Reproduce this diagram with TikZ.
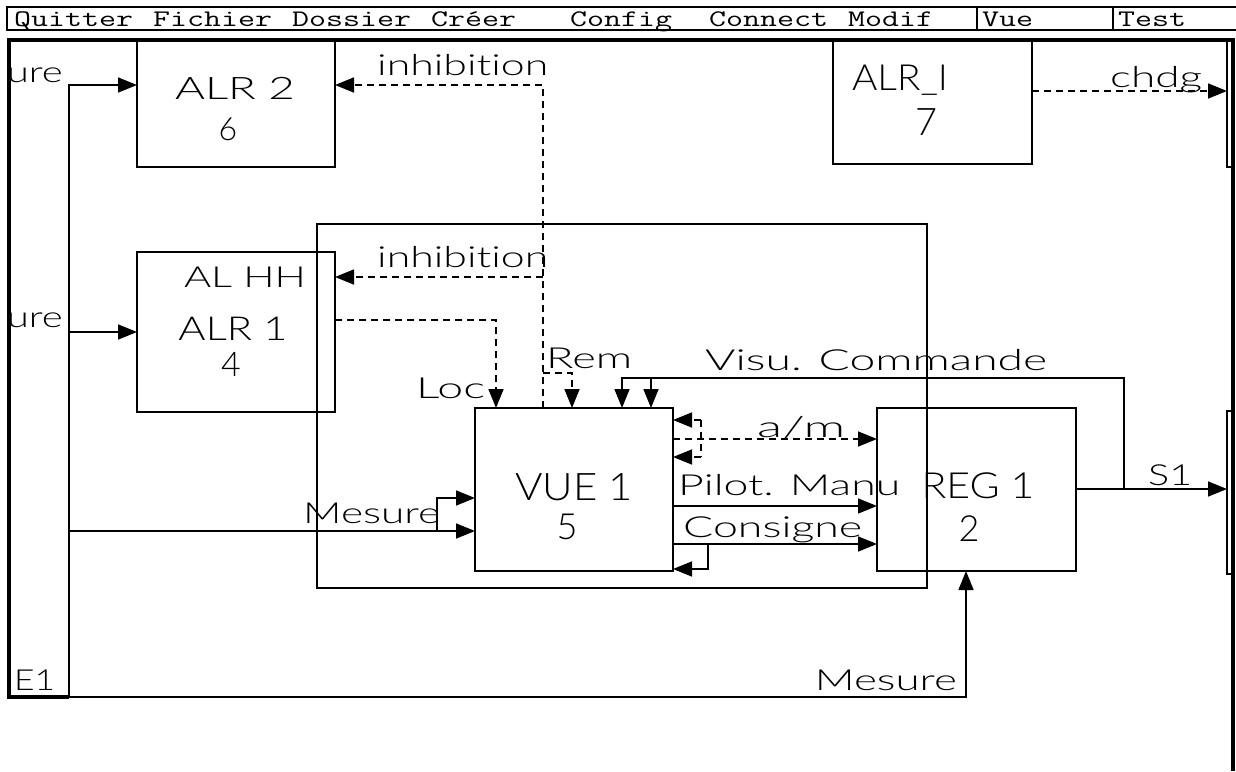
\documentclass[tikz,border=0pt]{standalone}
\usepackage{fontspec}
\usepackage{graphicx}
\setmainfont{Lato}[UprightFont=* Light, Ligatures=NoCommon]
\usetikzlibrary{arrows.meta}
\newcommand\fitw[2]{\resizebox{#1pt}{\height}{#2}}
\newcommand\mtxt[1]{\scalebox{1}[0.72]{#1}}
\begin{document}
\begin{tikzpicture}[x=1pt,y=-1pt,
  box/.style={draw, line width=1.6pt, inner sep=0pt, outer sep=0pt, anchor=north west},
  wire/.style={line width=1.6pt},
  sig/.style={wire, -{Triangle[length=19pt,width=15pt]}},
  dwire/.style={wire, dash pattern=on 7pt off 5pt},
  dsig/.style={dwire, -{Triangle[length=19pt,width=15pt]}},
  lbl/.style={inner sep=0pt, font=\fontsize{29}{30}\selectfont},
  big/.style={inner sep=0pt, font=\fontsize{#1}{#1}\selectfont},
  menu/.style={inner sep=0pt, anchor=base west, font=\ttfamily\fontsize{33}{33}\selectfont},
  frame/.style={line width=4pt},
  mline/.style={line width=1.4pt}
]
\useasboundingbox (0,0) rectangle (1236,771);
\fill[white] (0,0) rectangle (1236,771);

% menu bar
\draw[mline] (1240,7) -- (7,7) -- (7,30) -- (1240,30);
\coordinate (sepA) at (977,7);
\coordinate (sepB) at (1113,7);
\draw[mline] (sepA) -- (977,30);
\draw[mline] (sepB) -- (1113,30);
\node[menu] (mQuit) at (14,26) {\mtxt{Quitter}};
\node[menu] (mFich) at (153,26) {\mtxt{Fichier}};
\node[menu] (mDoss) at (292,26) {\mtxt{Dossier}};
\node[menu] (mCree) at (431,26) {\mtxt{Créer}};
\node[menu] (mConf) at (570,26) {\mtxt{Config}};
\node[menu] (mConn) at (709,26) {\mtxt{Connect}};
\node[menu] (mModi) at (848,26) {\mtxt{Modif}};
\node[menu] (mVue) at (982,26) {\mtxt{Vue}};
\node[menu] (mTest) at (1118,26) {\mtxt{Test}};

% boxes
\node[box, minimum width=198pt, minimum height=127pt] (alr2) at (137,40) {};
\node[box, minimum width=199pt, minimum height=124pt] (alri) at (833,40) {};
\node[box, minimum width=610pt, minimum height=364pt] (grp) at (317,224) {};
\node[box, minimum width=198pt, minimum height=160pt] (alr1) at (137,252) {};
\node[box, minimum width=198pt, minimum height=163pt] (vue) at (475,408) {};
\node[box, minimum width=199pt, minimum height=163pt] (reg) at (877,408) {};
\node[box, minimum width=6pt, minimum height=127pt] (outA) at (1227,40) {};
\node[box, minimum width=6pt, minimum height=163pt] (outB) at (1227,411) {};

% box texts
\node[big=31] (t2) at (235,88) {\fitw{120}{ALR 2}};
\node[big=32] (n2) at (228,129) {6};
\node[big=36] (ti) at (900,80) {\fitw{96}{ALR\_I}};
\node[big=38] (ni) at (927,122) {7};
\node[big=29] (thh) at (245,277) {\fitw{122}{AL HH}};
\node[big=33] (t1) at (233,329) {\fitw{109}{ALR 1}};
\node[big=34] (n1) at (231,364) {4};
\node[big=38] (tv) at (574,487) {\fitw{118}{VUE 1}};
\node[big=36] (nv) at (567,527) {5};
\node[big=36] (tr) at (978,486) {\fitw{113}{REG 1}};
\node[big=36] (nr) at (969,529) {2};

% coordinates for wiring
\coordinate (vtop) at (69,85);
\coordinate (vmid) at (69,332);
\coordinate (vlow) at (69,531);
\coordinate (vbot) at (69,697);
\coordinate (mbot) at (966,697);
\coordinate (br) at (437,531);
\coordinate (brup) at (437,498);
\coordinate (inhT) at (543,85);
\coordinate (inhB) at (543,408);
\coordinate (inh2) at (543,277);
\coordinate (locA) at (335,320);
\coordinate (locB) at (496,320);
\coordinate (remA) at (543,373);
\coordinate (remB) at (572,373);
\coordinate (visA) at (1124,489);
\coordinate (visB) at (1124,378);
\coordinate (visC) at (622,378);
\coordinate (visD) at (651,378);
\coordinate (amA) at (701,420);
\coordinate (amB) at (701,457);
\coordinate (csA) at (708,544);
\coordinate (csB) at (708,569);

% solid wires
\draw[sig] (vbot) -- (vtop) -- (alr2.west |- vtop);
\draw[sig] (vbot) -- (mbot) -- (mbot |- reg.south);
\draw[sig] (vmid) -- (alr1.west |- vmid);
\draw[sig] (vlow) -- (vue.west |- vlow);
\draw[sig] (br) -- (brup) -- (vue.west |- brup);
\draw[sig] (reg.east |- visA) -- (outB.west |- visA);
\draw[sig] (visA) -- (visB) -- (visC) -- (visC |- vue.north);
\draw[sig] (visD) -- (visD |- vue.north);
\draw[sig] (vue.east |- 0,506) -- (reg.west |- 0,506);
\draw[sig] (vue.east |- csA) -- (reg.west |- csA);
\draw[sig] (csA) -- (csB) -- (vue.east |- csB);

% dashed wires
\draw[dsig] (inhB) -- (inhT) -- (alr2.east |- inhT);
\draw[dsig] (inh2) -- (alr1.east |- inh2);
\draw[dsig] (locA) -- (locB) -- (locB |- vue.north);
\draw[dsig] (remA) -- (remB) -- (remB |- vue.north);
\draw[dsig] (vue.east |- 0,439) -- (reg.west |- 0,439);
\draw[dwire] (amA) -- (amB);
\draw[dsig] (amA) -- (vue.east |- amA);
\draw[dsig] (amB) -- (vue.east |- amB);
\draw[dsig] (alri.east |- 0,91) -- (outA.west |- 0,91);

% labels
\node[lbl, anchor=base east] (lUre1) at (63,82) {\fitw{56}{ure}};
\node[lbl, anchor=base east] (lUre2) at (63,327) {\fitw{56}{ure}};
\node[lbl, anchor=base west] (lInh1) at (377,75) {\fitw{171}{inhibit\kern0pt ion}};
\node[lbl, anchor=base west] (lInh2) at (377,267) {\fitw{171}{inhibit\kern0pt ion}};
\node[lbl, anchor=base west] (lLoc) at (416,398) {\fitw{69}{Loc}};
\node[lbl, anchor=base west] (lRem) at (546,368) {\fitw{86}{Rem}};
\node[lbl, anchor=base west] (lVis) at (705,370) {\fitw{342}{Visu. Commande}};
\node[lbl, anchor=base west] (lAm) at (757,437) {\fitw{88}{a/m}};
\node[lbl, anchor=base west] (lPil) at (678,495) {\fitw{222}{Pilot. Manu}};
\node[lbl, anchor=base west] (lCon) at (683,537) {\fitw{179}{Consigne}};
\node[lbl, anchor=base west] (lS1) at (1148,485) {\fitw{44}{S1}};
\node[lbl, anchor=base west] (lMes) at (303,523) {\fitw{137}{Mesure}};
\node[lbl, anchor=base west] (lChd) at (1110,87) {\fitw{92}{chdg}};
\node[lbl, anchor=base west] (lE1) at (14,690) {\fitw{41}{E1}};
\node[lbl, anchor=base east] (lMes2) at (957,690) {\fitw{142}{Mesure}};

% main frame
\draw[frame] (1233,771) -- (1233,40) -- (9,40) -- (9,697) -- (vbot);
\end{tikzpicture}
\end{document}
